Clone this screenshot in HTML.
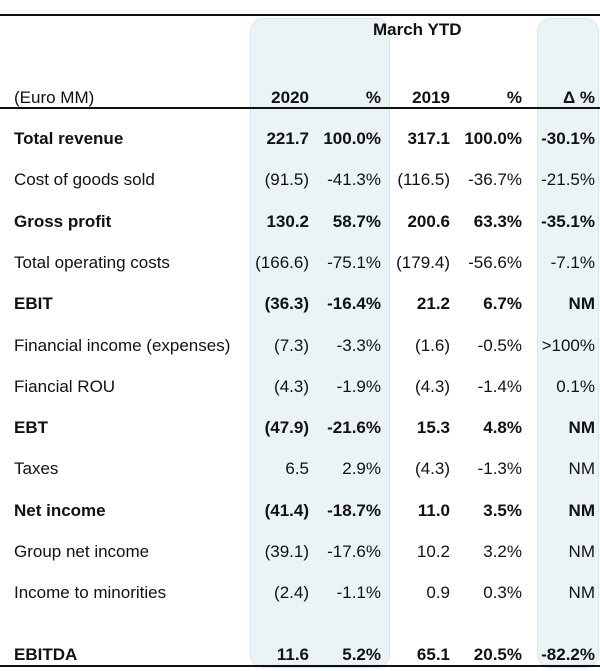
<!DOCTYPE html>
<html><head><style>
body{margin:0;background:#fff;width:600px;height:671px;position:relative;overflow:hidden;font-family:"Liberation Sans",Arial,sans-serif;color:#111;}
.box{position:absolute;background:#eaf4f7;border:1px solid #d4e7ed;border-radius:14px;}
.hl{position:absolute;left:0;width:600px;background:#111;}
.t{position:absolute;font-size:17px;line-height:20px;white-space:nowrap;}
.r{text-align:right;}
.b{font-weight:bold;}
</style></head><body>
<div class="box" style="left:250px;top:18px;width:138px;height:648px;"></div>
<div class="box" style="left:537px;top:18px;width:60px;height:648px;"></div>
<div class="hl" style="top:14px;height:2px;"></div>
<div class="hl" style="top:107px;height:2px;"></div>
<div class="hl" style="top:665px;height:2px;"></div>
<div class="t b" style="left:373px;top:20px;">March YTD</div>
<div class="t" style="left:14px;top:88px;">(Euro MM)</div>
<div id="rows"></div>
<script>
var hdr=["2020","%","2019","%","Δ %"];
var R=[309,381,450,522,595];
function put(y,vals,bold){vals.forEach(function(v,i){var d=document.createElement('div');d.className='t r'+(bold?' b':'');d.style.top=y+'px';d.style.right=(600-R[i])+'px';d.textContent=v;document.body.appendChild(d);});}
put(88,hdr,true);
var rows=[
["Total revenue",1,["221.7","100.0%","317.1","100.0%","-30.1%"]],
["Cost of goods sold",0,["(91.5)","-41.3%","(116.5)","-36.7%","-21.5%"]],
["Gross profit",1,["130.2","58.7%","200.6","63.3%","-35.1%"]],
["Total operating costs",0,["(166.6)","-75.1%","(179.4)","-56.6%","-7.1%"]],
["EBIT",1,["(36.3)","-16.4%","21.2","6.7%","NM"]],
["Financial income (expenses)",0,["(7.3)","-3.3%","(1.6)","-0.5%",">100%"]],
["Fiancial ROU",0,["(4.3)","-1.9%","(4.3)","-1.4%","0.1%"]],
["EBT",1,["(47.9)","-21.6%","15.3","4.8%","NM"]],
["Taxes",0,["6.5","2.9%","(4.3)","-1.3%","NM"]],
["Net income",1,["(41.4)","-18.7%","11.0","3.5%","NM"]],
["Group net income",0,["(39.1)","-17.6%","10.2","3.2%","NM"]],
["Income to minorities",0,["(2.4)","-1.1%","0.9","0.3%","NM"]],
["EBITDA",1,["11.6","5.2%","65.1","20.5%","-82.2%"]]];
rows.forEach(function(r,i){var y=(i<12?129+i*41.3:645);var d=document.createElement('div');d.className='t'+(r[1]?' b':'');d.style.left='14px';d.style.top=y+'px';d.textContent=r[0];document.body.appendChild(d);put(y,r[2],r[1]);});
</script>
</body></html>
